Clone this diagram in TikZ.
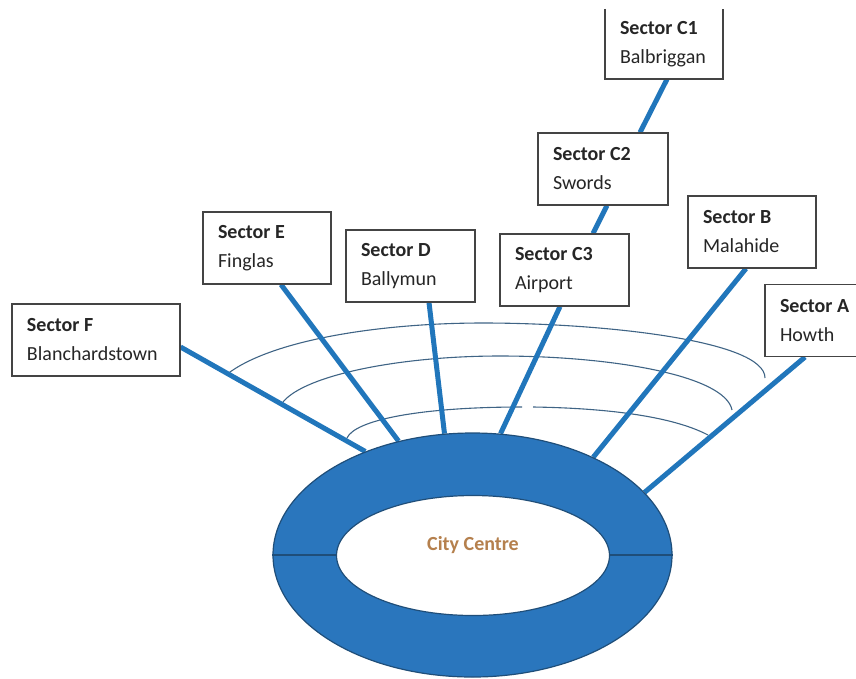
\documentclass[tikz,border=0pt]{standalone}
\usepackage{fontspec}
\setmainfont{Carlito}
\usetikzlibrary{shapes.geometric,backgrounds,calc}
\definecolor{ringblue}{HTML}{2A76BD}
\definecolor{ringedge}{HTML}{1F4E79}
\definecolor{spoke}{HTML}{2176BB}
\definecolor{arcline}{HTML}{3F6485}
\definecolor{boxedge}{HTML}{444444}
\definecolor{cityc}{HTML}{B5804D}
\tikzset{
  sectorfont/.style={fill=white,rectangle,inner sep=0pt,
    minimum height=72pt,anchor=center,align=left,text=black!85,
    font=\fontsize{20}{29}\selectfont},
  sectorbox/.style={sectorfont,draw=boxedge,line width=1.1pt},
  boxline/.style={draw=boxedge,line width=1.5pt},
  spokeline/.style={draw=spoke,line width=5pt},
  arcstyle/.style={draw=arcline,line width=1.1pt},
}
\newcommand{\sectortext}[3]{\parbox{#1pt}{\hspace*{15pt}\textbf{#2}\\\hspace*{15pt}#3}}
\begin{document}
\begin{tikzpicture}[x=1pt,y=-1pt]
\useasboundingbox (0,0) rectangle (856,678);
% ring
\node[ellipse,draw=ringedge,line width=1.2pt,fill=ringblue,minimum width=399pt,minimum height=244pt,inner sep=0pt] (ring) at (472.5,555) {};
\draw[ringedge,line width=1.2pt] (ring.west) -- (ring.east);
\node[ellipse,draw=ringedge,line width=1.2pt,fill=white,minimum width=273pt,minimum height=120pt,inner sep=0pt] (hub) at (473,555.5) {};
\node[text=cityc,font=\fontsize{20}{20}\selectfont\bfseries] (city) at (473,545) {City Centre};
% boxes
\node[sectorfont,minimum width=118pt,minimum height=70pt] (C1) at (664,44) {\sectortext{118}{Sector C1}{Balbriggan}};
\draw[boxline] (C1.north west) -- (C1.south west) -- (C1.south east) -- (C1.north east);
\node[sectorbox,minimum width=130pt] (C2) at (603,169) {\sectortext{130}{Sector C2}{Swords}};
\node[sectorbox,minimum width=129pt] (C3) at (564.5,270) {\sectortext{129}{Sector C3}{Airport}};
\node[sectorbox,minimum width=128pt] (E) at (267,248) {\sectortext{128}{Sector E}{Finglas}};
\node[sectorbox,minimum width=129pt] (D) at (410.5,266) {\sectortext{129}{Sector D}{Ballymun}};
\node[sectorbox,minimum width=128pt] (B) at (752,232) {\sectortext{128}{Sector B}{Malahide}};
\node[sectorbox,minimum width=98pt] (A) at (814,320.5) {\sectortext{98}{Sector A}{Howth}};
\node[sectorbox,minimum width=168pt] (F) at (96,340) {\sectortext{168}{Sector F}{Blanchardstown}};
% arcs and spokes
\begin{scope}[on background layer]
\draw[arcstyle] (226,375) .. controls (270,340) and (380,323) .. (483,323) .. controls (600,323) and (765,340) .. (765,378);
\draw[arcstyle] (283,402) .. controls (305,375) and (400,356) .. (500,356) .. controls (610,356) and (725,375) .. (732,410);
\draw[arcstyle] (347,438) .. controls (355,420) and (420,407) .. (522,407);
\draw[arcstyle] (533,407) .. controls (600,408) and (670,415) .. (708,435);
\draw[spokeline] ([yshift=-7pt]F.east) -- (ring.136);
\draw[spokeline] ([xshift=14pt]E.south) -- (ring.123.5);
\draw[spokeline] ([xshift=18.5pt]D.south) -- (ring.103);
\draw[spokeline] ([xshift=-4.5pt]C3.south) -- (ring.77);
\draw[spokeline] ([xshift=-6pt]B.south) -- (ring.39);
\draw[spokeline] ([xshift=-9pt]A.south) -- (ring.20.6);
\draw[spokeline] ([xshift=4pt]C2.south) -- ([xshift=28.5pt]C3.north);
\draw[spokeline] ([xshift=3pt]C1.south) -- ([xshift=37pt]C2.north);
\end{scope}
\end{tikzpicture}
\end{document}
